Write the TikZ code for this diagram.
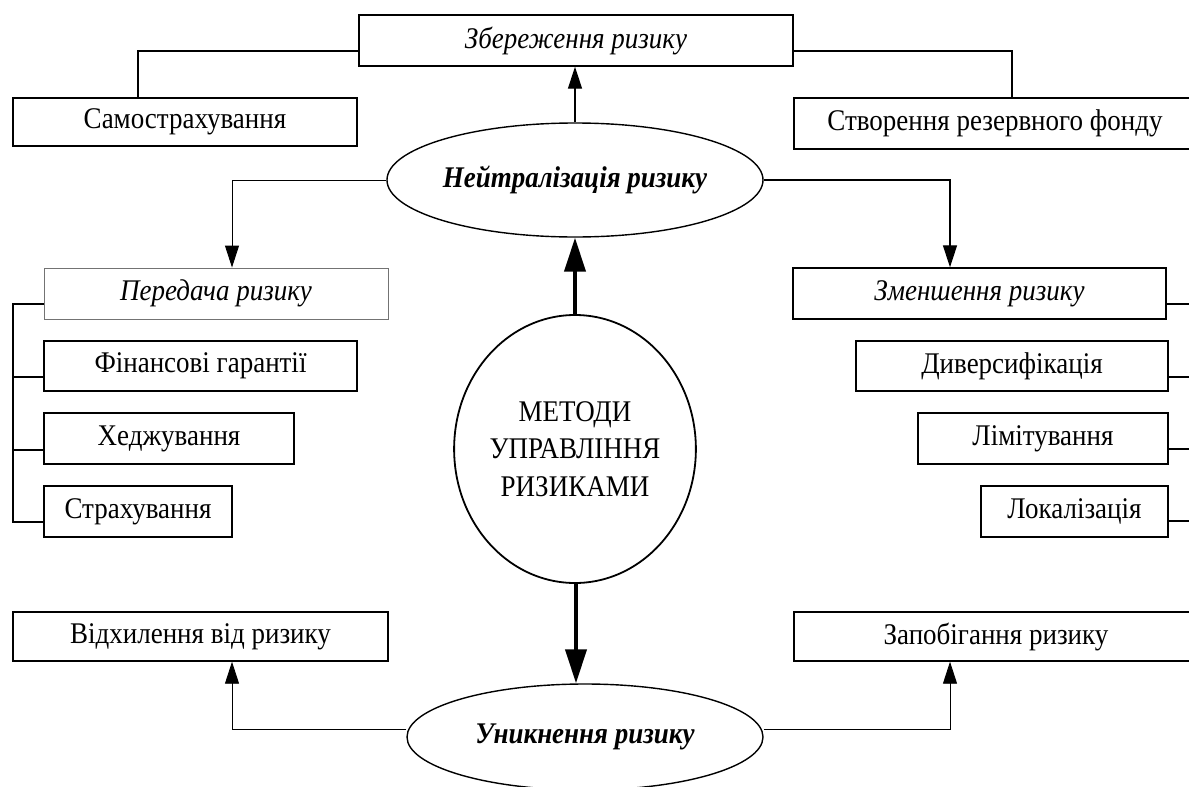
\documentclass[tikz,border=0pt]{standalone}
\usepackage{fontspec}
\setmainfont[FakeStretch=0.9]{Liberation Serif}
\usetikzlibrary{arrows.meta,shapes.geometric,calc}
\begin{document}
\begin{tikzpicture}[x=1pt,y=-1pt,
  font=\fontsize{30}{36}\selectfont,
  box/.style={draw,line width=1.4pt,rectangle,inner sep=0pt,anchor=center},
  lightbox/.style={draw=black!55,line width=0.9pt,rectangle,inner sep=0pt,anchor=center},
  oval/.style={draw,line width=1.4pt,ellipse,inner sep=0pt,anchor=center},
  conn/.style={line width=1.3pt},
  thinconn/.style={line width=0.9pt},
  arr/.style={-{Triangle[length=22pt,width=14pt]}},
  bigarr/.style={line width=4pt,-{Triangle[length=34pt,width=21pt]}}]
\useasboundingbox (0,0) rectangle (1189,787);
\clip (0,0) rectangle (1189,787);

% top group
\node[box,minimum width=434pt,minimum height=51pt] (zb) at (576,40.5) {\itshape Збереження ризику};
\node[box,minimum width=344pt,minimum height=48pt] (sam) at (185,122) {Самострахування};
\node[box,minimum width=402pt,minimum height=51pt] (stv) at (995,123.5) {Створення резервного фонду};
\node[oval,minimum width=376pt,minimum height=114pt] (neut) at (575,180) {\bfseries\itshape Нейтралізація ризику};

% left group
\node[lightbox,minimum width=344pt,minimum height=51pt] (per) at (216,293.5) {\itshape Передача ризику};
\node[box,minimum width=313pt,minimum height=50pt] (fin) at (200.5,366) {Фінансові гарантії};
\node[box,minimum width=250pt,minimum height=51pt] (hed) at (169,438.5) {Хеджування};
\node[box,minimum width=188pt,minimum height=51pt] (str) at (138,511.5) {Страхування};

% right group
\node[box,minimum width=373pt,minimum height=51pt] (zm) at (979.5,293.5) {\itshape Зменшення ризику};
\node[box,minimum width=312pt,minimum height=50pt] (div) at (1012,366) {Диверсифікація};
\node[box,minimum width=250pt,minimum height=51pt] (lim) at (1043,438.5) {Лімітування};
\node[box,minimum width=187pt,minimum height=51pt] (lok) at (1074.5,511.5) {Локалізація};

% centre
\node[oval,line width=1.8pt,minimum width=234pt,minimum height=268pt,align=center,
      font=\fontsize{30}{37.5}\selectfont] (met) at (575,449) {МЕТОДИ\\УПРАВЛІННЯ\\РИЗИКАМИ};

% bottom group
\node[box,minimum width=375pt,minimum height=49pt] (vid) at (200.5,636.5) {Відхилення від ризику};
\node[box,minimum width=404pt,minimum height=49pt] (zap) at (996,636.5) {Запобігання ризику};
\node[oval,minimum width=356pt,minimum height=106pt] (unik) at (585,737) {\bfseries\itshape Уникнення ризику};

% coordinates for buses and stubs
\coordinate (lbus) at (13,0);
\coordinate (rbus) at (1200,0);
\coordinate (pS) at ([yshift=-10.5pt]per.west);
\coordinate (fS) at ([yshift=-11pt]fin.west);
\coordinate (hS) at ([yshift=-11.5pt]hed.west);
\coordinate (sS) at ([yshift=-10.5pt]str.west);
\coordinate (zS) at ([yshift=-10.5pt]zm.east);
\coordinate (dS) at ([yshift=-11pt]div.east);
\coordinate (lS) at ([yshift=-10.5pt]lim.east);
\coordinate (oS) at ([yshift=-9.5pt]lok.east);
\coordinate (zbL) at ([yshift=-10.5pt]zb.west);
\coordinate (zbR) at ([yshift=-10.5pt]zb.east);
\coordinate (samT) at ([xshift=-47pt]sam.north);
\coordinate (stvT) at ([xshift=17pt]stv.north);
\coordinate (perT) at ([xshift=16pt]per.north);
\coordinate (zmT) at ([xshift=-29.5pt]zm.north);
\coordinate (uL) at ([yshift=8pt]unik.west);
\coordinate (uR) at ([yshift=8pt]unik.east);
\coordinate (vidB) at ([xshift=31.5pt]vid.south);
\coordinate (zapB) at ([xshift=-46pt]zap.south);
\coordinate (metB) at ([xshift=1pt]met.south);

% top connectors
\draw[conn] (zbL) -| (samT);
\draw[conn] (zbR) -| (stvT);
\draw[conn,arr] (neut.north) -- (neut.north |- zb.south);

% neutralisation to sides
\draw[thinconn,arr] (neut.west) -| (perT);
\draw[conn,arr] (neut.east) -| (zmT);

% left bus
\draw[conn] (pS) -| (lbus |- sS) -- (sS);
\draw[conn] (fS) -- (lbus |- fS);
\draw[conn] (hS) -- (lbus |- hS);

% right stubs
\draw[conn] (zS) -- (rbus |- zS);
\draw[conn] (dS) -- (rbus |- dS);
\draw[conn] (lS) -- (rbus |- lS);
\draw[conn] (oS) -- (rbus |- oS);

% big arrows
\draw[bigarr] (met.north) -- (neut.south);
\draw[bigarr] (metB) -- (metB |- unik.north);

% avoidance
\draw[thinconn,arr] (uL) -| (vidB);
\draw[thinconn,arr] (uR) -| (zapB);
\end{tikzpicture}
\end{document}
